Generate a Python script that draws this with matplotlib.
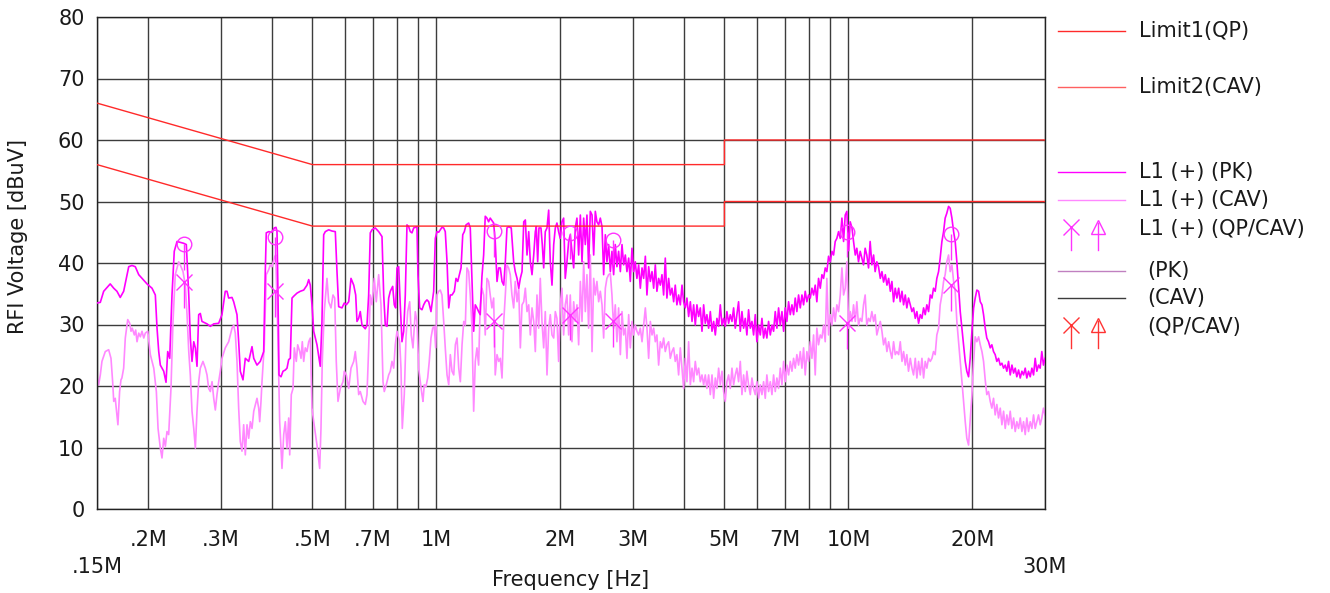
import matplotlib
matplotlib.use("Agg")
import matplotlib.pyplot as plt
import numpy as np
from matplotlib.ticker import NullLocator

# ---- data (MHz / dBuV) ----
pk_lo_mhz = [
    0.1500, 0.1528, 0.1557, 0.1615, 0.1647, 0.1677, 0.1708, 0.1741, 0.1791, 0.1824,
    0.1858, 0.1894, 0.1984, 0.2040, 0.2078, 0.2098, 0.2118, 0.2137, 0.2178, 0.2206,
    0.2227, 0.2252, 0.2281, 0.2310, 0.2346, 0.2436, 0.2471, 0.2505, 0.2527, 0.2551,
    0.2576, 0.2599, 0.2623, 0.2648, 0.2672, 0.2697, 0.2774, 0.2826, 0.2880, 0.2961,
    0.3016, 0.3072, 0.3102, 0.3131, 0.3190, 0.3220, 0.3280, 0.3311, 0.3341, 0.3392,
    0.3436, 0.3502, 0.3567, 0.3602, 0.3668,
    0.3736, 0.3808, 0.3842, 0.3863, 0.3916, 0.3989, 0.4040, 0.4079, 0.4102, 0.4125,
    0.4148, 0.4195, 0.4242, 0.4297, 0.4338, 0.4379, 0.4419, 0.4461, 0.4504, 0.4587,
    0.4672, 0.4762, 0.4851, 0.4897, 0.4941, 0.4988, 0.5036, 0.5129, 0.5224, 0.5274,
    0.5325, 0.5373, 0.5476, 0.5578, 0.5682, 0.5736, 0.5790, 0.5898, 0.5975, 0.6042,
    0.6124, 0.6203, 0.6298, 0.6368, 0.6414, 0.6475, 0.6533, 0.6596, 0.6719, 0.6783,
    0.6847, 0.6909, 0.6975, 0.7105, 0.7241, 0.7376, 0.7447, 0.7514, 0.7585, 0.7657,
    0.7726, 0.7831, 0.7901, 0.7963, 0.8021, 0.8097, 0.8170, 0.8248, 0.8327, 0.8402,
    0.8482, 0.8563, 0.8640, 0.8722, 0.8806, 0.8969,
    0.9019, 0.9105, 0.9223, 0.9312, 0.9395, 0.9485, 0.9575, 0.9699, 0.9847, 0.9936,
    1.003, 1.0125, 1.0314, 1.0413, 1.0506, 1.061, 1.0711, 1.0807, 1.0910, 1.1051,
    1.1156, 1.1264, 1.1365, 1.1474, 1.1584, 1.1687, 1.1798, 1.1973, 1.2081, 1.2196,
    1.2313, 1.2424, 1.254, 1.2659, 1.2773, 1.2895, 1.3019, 1.3136, 1.326, 1.3386,
    1.3507, 1.3767, 1.3890, 1.403, 1.4163, 1.4291, 1.4427, 1.4566, 1.4696, 1.483,
    1.4971, 1.5190, 1.5397, 1.5534, 1.569, 1.5839, 1.5982, 1.6134, 1.6289, 1.6435,
    1.659, 1.6748, 1.6899, 1.7059, 1.7224, 1.7378, 1.7474, 1.7608, 1.7736, 1.7936,
    1.8068, 1.8210, 1.8373, 1.855, 1.8726, 1.8895, 1.9075, 1.9259, 1.9431, 1.961,
    1.9796, 1.9975, 2.0165, 2.0359, 2.0541, 2.074, 2.0937, 2.1126, 2.1327, 2.1532,
    2.1725,
]
pk_lo_db = [
    33.5, 33.6, 35.4, 36.6, 35.9, 35.4, 34.4, 35.4, 39.4, 39.6,
    39.4, 38.1, 36.6, 35.9, 34.8, 29.4, 25.6, 23.4, 22.4, 20.6,
    25.6, 24.5, 34.8, 41.9, 43.5, 43.2, 43.0, 34.8, 27.8, 24.0,
    27.2, 26.2, 23.2, 31.6, 31.8, 30.5, 30.1, 29.7, 30.1, 30.2,
    31.6, 35.4, 35.4, 34.3, 34.4, 33.7, 31.6, 27.2, 22.4, 21.0,
    24.5, 24.0, 26.4, 24.5, 23.4,
    24.0, 25.6, 38.6, 44.9, 45.1, 45.0, 45.7, 45.8, 45.1, 34.8,
    21.8, 21.5, 22.4, 22.6, 22.9, 24.3, 24.5, 34.3, 34.6, 35.1,
    35.4, 35.6, 36.4, 37.3, 36.4, 33.2, 28.9, 26.7, 23.2, 30.5,
    44.6, 45.1, 45.4, 45.2, 45.1, 38.6, 32.9, 32.7, 33.5, 33.2,
    33.7, 37.5, 36.4, 34.8, 30.5, 31.0, 32.1, 29.9, 29.3, 29.9,
    34.8, 44.9, 45.4, 45.7, 45.1, 44.3, 34.8, 29.9, 29.7, 34.3,
    35.4, 36.2, 33.2, 32.7, 39.2, 39.4, 33.2, 27.2, 28.9, 34.8,
    46.2, 45.9, 45.1, 44.9, 45.7, 45.9,
    38.1, 32.7, 32.4, 33.2, 33.7, 34.0, 33.7, 32.1, 35.4, 44.0,
    45.1, 45.0, 45.8, 45.7, 45.1, 40.2, 32.7, 34.8, 34.8, 35.4,
    37.5, 37.0, 38.1, 39.2, 44.6, 45.1, 46.2, 46.5, 45.7, 37.5,
    28.9, 33.2, 32.7, 32.1, 31.6, 37.8, 41.3, 47.6, 47.3, 46.7,
    47.3, 46.5, 43.5, 37.0, 39.2, 39.2, 37.0, 36.4, 40.2, 45.7,
    45.9, 45.7, 40.2, 38.6, 37.5, 35.9, 37.5, 38.6, 46.7, 47.0,
    41.3, 45.1, 40.2, 38.1, 41.3, 45.1, 45.9, 40.2, 45.7, 45.7,
    43.0, 39.2, 45.1, 45.7, 48.6, 40.2, 36.4, 43.0, 45.7, 46.5,
    45.1, 44.0, 46.7, 47.3, 37.5, 40.2, 43.5, 44.6, 41.9, 39.2,
    45.7,
]

cav_lo_mhz = [
    0.1500, 0.1514, 0.1528, 0.1542, 0.1571, 0.1601, 0.1622, 0.1637, 0.1647, 0.1661,
    0.1677, 0.1686, 0.1702, 0.1715, 0.1724, 0.1741, 0.1757, 0.1781, 0.1801, 0.1814,
    0.1827, 0.1848, 0.1862, 0.1876, 0.1894, 0.1911, 0.1929, 0.1948, 0.1965, 0.1992,
    0.2021, 0.2060, 0.2090, 0.2110, 0.2137, 0.2157, 0.2178, 0.2198, 0.2218, 0.2239,
    0.2268, 0.2294, 0.2323, 0.2368, 0.2399, 0.2426, 0.2457, 0.2481, 0.2505, 0.2527,
    0.2551, 0.2576, 0.2599, 0.2623, 0.2648, 0.2672, 0.2712, 0.2748, 0.2774, 0.2800,
    0.2826, 0.2853, 0.2880, 0.2906, 0.2933, 0.2961, 0.2988, 0.3016, 0.3072, 0.3131,
    0.3190, 0.3220, 0.3249, 0.3280, 0.3311, 0.3341, 0.3373, 0.3405, 0.3436, 0.3469,
    0.3502, 0.3534, 0.3567, 0.3602, 0.3668,
    0.3703, 0.3724, 0.3751, 0.3772, 0.3821, 0.3863, 0.3916, 0.3951, 0.3989, 0.4040,
    0.4072, 0.4118, 0.4164, 0.4218, 0.4259, 0.4297, 0.4338, 0.4379, 0.4404, 0.4443,
    0.4486, 0.4518, 0.4569, 0.4605, 0.4657, 0.4691, 0.4725, 0.4762, 0.4805, 0.4851,
    0.4897, 0.4941, 0.4988, 0.5036, 0.5129, 0.5207, 0.5245, 0.5283, 0.5342, 0.5424,
    0.5476, 0.5547, 0.5609, 0.5663, 0.5713, 0.5768, 0.5843, 0.5932, 0.5975, 0.6042,
    0.6124, 0.6203, 0.6298, 0.6354, 0.6414, 0.6475, 0.6533, 0.6633, 0.6719, 0.6783,
    0.6847, 0.6909, 0.6975, 0.7065, 0.7145, 0.7241, 0.7335, 0.7418, 0.7471, 0.7555,
    0.7657, 0.7726, 0.7800, 0.7875, 0.7945, 0.8021, 0.8143, 0.8202, 0.8262, 0.8355,
    0.8434, 0.8515, 0.8611, 0.8688, 0.8771, 0.8885, 0.8969,
    0.9054, 0.9136, 0.9223, 0.9275, 0.9342, 0.9431, 0.9522, 0.9607, 0.9699, 0.9792,
    0.9880, 0.9957, 1.003, 1.0125, 1.0217, 1.0314, 1.0413, 1.0506, 1.061, 1.0711,
    1.0807, 1.0910, 1.1015, 1.1114, 1.122, 1.1327, 1.1429, 1.1538, 1.1649, 1.1753,
    1.186, 1.1973, 1.2081, 1.2196, 1.2313, 1.2424, 1.254, 1.2659, 1.2773, 1.2895,
    1.3019, 1.3136, 1.326, 1.3386, 1.3507, 1.3635, 1.3767, 1.3890, 1.403, 1.4163,
    1.4291, 1.4427, 1.4566, 1.4696, 1.483, 1.4971, 1.5106, 1.5250, 1.5397, 1.5534,
    1.569, 1.5839, 1.5982, 1.6134, 1.6289, 1.6435, 1.659, 1.6748, 1.6899, 1.7059,
    1.7224, 1.7378, 1.754, 1.7707, 1.7866, 1.8036, 1.8210, 1.8373, 1.855, 1.8726,
    1.8895, 1.9075, 1.9259, 1.9431, 1.961, 1.9796, 1.9975, 2.0165, 2.0359, 2.0541,
    2.074, 2.0937, 2.1126, 2.1327, 2.1532, 2.1725,
]
cav_lo_db = [
    21.5, 20.2, 21.8, 24.0, 25.6, 25.9, 24.5, 20.7, 17.5, 18.0,
    15.3, 13.7, 19.1, 21.0, 21.3, 22.9, 27.8, 30.8, 30.2, 28.9,
    29.4, 28.3, 29.1, 27.2, 28.6, 28.0, 28.9, 27.8, 28.6, 28.9,
    25.1, 22.9, 19.1, 13.1, 9.9, 8.3, 11.5, 10.2, 12.6, 12.1,
    19.6, 30.5, 38.1, 40.2, 39.4, 38.6, 36.4, 31.6, 25.6, 21.8,
    15.9, 13.1, 9.9, 15.9, 20.7, 22.9, 24.0, 22.9, 21.8, 19.6,
    19.1, 20.7, 18.0, 16.1, 18.6, 20.7, 22.4, 24.5, 26.2, 27.2,
    29.4, 29.9, 28.6, 24.0, 16.4, 11.0, 9.4, 13.7, 8.8, 13.7,
    11.5, 14.2, 13.1, 15.9, 18.0,
    16.4, 14.2, 17.5, 20.7, 26.7, 38.1, 38.9, 39.7, 39.4, 40.8,
    41.3, 29.4, 14.2, 6.6, 12.1, 14.2, 9.9, 14.8, 8.8, 18.6,
    19.6, 26.2, 24.0, 26.7, 25.6, 24.5, 27.2, 24.0, 26.2, 25.6,
    27.2, 27.8, 16.4, 14.2, 10.4, 6.6, 13.1, 24.0, 32.1, 37.5,
    33.7, 32.7, 34.8, 34.3, 24.0, 17.5, 19.6, 20.7, 22.4, 21.8,
    19.6, 22.9, 24.0, 25.6, 22.9, 18.6, 19.1, 17.5, 17.0, 18.6,
    26.2, 34.8, 33.2, 37.5, 33.7, 38.1, 33.2, 20.7, 19.1, 20.2,
    21.8, 22.4, 24.0, 22.9, 26.7, 28.9, 27.2, 22.9, 13.1, 18.6,
    27.8, 32.1, 33.7, 28.3, 26.2, 32.1, 30.5,
    22.9, 20.7, 18.6, 17.5, 20.2, 19.9, 21.3, 24.0, 27.8, 29.4,
    29.7, 26.2, 34.8, 35.4, 35.6, 34.8, 30.5, 26.2, 21.8, 20.2,
    25.1, 22.4, 21.8, 26.7, 27.8, 22.9, 20.7, 26.7, 30.5, 29.9,
    39.2, 38.6, 34.8, 29.4, 15.9, 24.0, 26.2, 23.4, 33.2, 35.9,
    34.8, 28.3, 37.5, 37.0, 34.8, 32.7, 34.3, 21.8, 25.1, 24.0,
    24.5, 21.3, 30.5, 34.8, 39.7, 39.2, 38.1, 34.8, 32.7, 37.0,
    33.7, 35.9, 26.2, 33.2, 33.7, 35.9, 32.1, 33.2, 28.3, 32.7,
    30.5, 25.6, 34.8, 29.4, 37.5, 30.5, 26.2, 32.1, 21.8, 29.4,
    31.6, 28.3, 27.8, 32.1, 31.0, 24.0, 33.2, 35.9, 28.3, 33.2,
    34.8, 28.3, 34.8, 27.2, 33.7, 30.5,
]

# sweep points above 2.19 MHz, shared by both detectors
sweep_hi_mhz = [
    2.193, 2.214, 2.235, 2.256, 2.277, 2.298,
    2.319, 2.341, 2.363, 2.386, 2.408, 2.430,
    2.452, 2.476, 2.499, 2.523, 2.546, 2.570,
    2.593, 2.618, 2.643, 2.667, 2.692, 2.717,
    2.742, 2.768, 2.795, 2.821, 2.847, 2.874,
    2.900, 2.928, 2.955, 2.983, 3.011, 3.038,
    3.066, 3.096, 3.125, 3.155, 3.184, 3.214,
    3.243, 3.274, 3.305, 3.336, 3.367, 3.398,
    3.429, 3.462, 3.495, 3.527, 3.560, 3.593,
    3.626, 3.661, 3.695, 3.730, 3.765, 3.799,
    3.834, 3.871, 3.908, 3.945, 3.981, 4.018,
    4.055, 4.094, 4.133, 4.172, 4.210, 4.249,
    4.288, 4.329, 4.370, 4.411, 4.452, 4.493,
    4.534, 4.578, 4.621, 4.665, 4.708, 4.752,
    4.795, 4.841, 4.887, 4.933, 4.978, 5.024,
    5.070, 5.119, 5.167, 5.216, 5.264, 5.313,
    5.361, 5.412, 5.464, 5.515, 5.566, 5.618,
    5.669, 5.723, 5.778, 5.832, 5.886, 5.941,
    5.995, 6.052, 6.110, 6.167, 6.224, 6.282,
    6.339, 6.400, 6.461, 6.522, 6.582, 6.643,
    6.704, 6.768, 6.832, 6.897, 6.961, 7.025,
    7.089, 7.157, 7.225, 7.293, 7.360, 7.428,
    7.496, 7.568, 7.640, 7.712, 7.783, 7.855,
    7.927, 8.003, 8.079, 8.155, 8.230, 8.306,
    8.382, 8.462, 8.543, 8.623, 8.703, 8.784,
    8.864, 8.949, 9.034, 9.119, 9.203, 9.288,
    9.373, 9.463, 9.553, 9.643, 9.732, 9.822,
    9.912, 10.01, 10.10, 10.20, 10.29, 10.39,
    10.48, 10.58, 10.68, 10.78, 10.88, 10.98,
    11.08, 11.19, 11.29, 11.40, 11.51, 11.61,
    11.72, 11.83, 11.95, 12.06, 12.17, 12.29,
    12.40, 12.52, 12.64, 12.75, 12.87, 12.99,
    13.11, 13.24, 13.36, 13.49, 13.61, 13.74,
    13.86, 13.99, 14.13, 14.26, 14.39, 14.53,
    14.66, 14.80, 14.94, 15.08, 15.22, 15.36,
    15.50, 15.65, 15.80, 15.95, 16.09, 16.24,
    16.39, 16.55, 16.70, 16.86, 17.02, 17.17,
    17.33, 17.50, 17.66, 17.83, 18.00, 18.16,
    18.33, 18.51, 18.68, 18.86, 19.03, 19.21,
    19.38, 19.57, 19.75, 19.94, 20.13, 20.31,
    20.50, 20.70, 20.89, 21.09, 21.28, 21.48,
    21.67, 21.88, 22.09, 22.29, 22.50, 22.71,
    22.92, 23.14, 23.36, 23.58, 23.80, 24.02,
    24.24, 24.47, 24.70, 24.94, 25.17, 25.40,
    25.63, 25.88, 26.12, 26.37, 26.61, 26.86,
    27.10, 27.36, 27.62, 27.88, 28.14, 28.40,
    28.66, 28.93, 29.20, 29.47, 29.74, 30.0,
]
pk_hi_db = [
    47.3, 41.3, 47.8, 40.2, 47.3, 43.0, 47.8, 39.2, 48.4, 47.8,
    41.3, 48.4, 46.7, 46.2, 47.3, 45.9, 38.1, 44.6, 40.2, 43.0,
    38.6, 41.9, 38.1, 43.0, 39.4, 41.9, 38.6, 43.0, 39.7, 41.3,
    38.6, 40.8, 37.0, 42.4, 38.6, 40.2, 37.5, 39.7, 35.9, 39.2,
    37.5, 41.1, 34.8, 39.4, 37.0, 38.6, 35.9, 39.7, 35.4, 37.5,
    36.4, 38.1, 34.8, 40.8, 34.3, 37.5, 34.8, 35.9, 33.7, 36.4,
    33.2, 34.8, 33.2, 36.4, 33.7, 32.7, 34.3, 31.3, 33.7, 30.5,
    33.2, 29.9, 33.2, 31.3, 32.7, 28.9, 33.2, 30.2, 31.6, 29.4,
    32.1, 28.9, 30.5, 28.3, 31.0, 29.7, 33.2, 29.9, 31.0, 29.7,
    32.1, 30.2, 31.6, 30.5, 32.7, 29.4, 31.6,
    33.7, 28.9, 32.1, 29.4, 31.0, 28.3, 32.4, 29.4, 30.5,
    28.3, 31.6, 27.2, 29.9, 28.3, 31.0, 27.8, 29.4, 27.8, 30.5,
    28.3, 29.9, 28.9, 32.1, 29.4, 32.7, 29.9, 32.1, 28.9, 32.7,
    30.5, 33.7, 31.6, 33.2, 31.6, 34.3, 32.1, 34.8, 32.7, 34.8,
    33.2, 35.4, 33.7, 34.8, 34.3, 35.9, 34.8, 36.4, 33.7, 37.5,
    35.9, 38.1, 37.5, 39.2, 38.6, 41.1, 40.2, 41.9, 41.3, 43.5,
    44.0, 45.1, 44.0, 47.3, 43.5, 47.8, 48.4, 42.0, 46.7, 45.7,
    43.5, 41.3, 42.4, 40.2, 41.9, 40.8, 39.7, 42.4, 41.3, 39.2,
    43.5, 39.7, 41.3, 38.6, 40.2, 39.4, 37.5, 38.6, 36.9, 38.1,
    36.4, 37.5, 35.4, 37.0, 33.7, 35.9, 34.3,
    35.9, 33.7, 35.4, 33.2, 34.8, 32.7, 34.3, 33.2, 32.1,
    32.7, 31.0, 32.1, 30.2, 31.6, 31.0, 32.7, 31.6, 33.2, 32.1,
    34.8, 34.3, 35.9, 35.4, 37.5, 38.6, 40.8, 43.5, 45.1, 47.3,
    48.1, 49.2, 48.9, 47.3, 45.1, 43.5, 40.2, 35.9, 32.1, 29.4,
    26.7, 24.0, 22.4, 21.5, 24.5, 28.9, 32.7, 34.3, 35.6, 35.4,
    33.7, 33.2, 31.6, 29.4, 27.8, 27.2, 26.2, 26.7, 25.6, 25.1,
    24.0, 24.5, 23.4, 23.7, 22.9, 23.4, 22.4, 24.0, 21.8, 23.4,
    22.1, 22.9, 21.5, 22.6, 21.3, 22.4, 21.8, 22.9, 21.3, 22.4,
    21.5, 22.9, 21.8, 24.5, 22.4, 23.4, 22.9, 25.6, 23.4, 24.5,
]
cav_hi_db = [
    33.2, 26.7, 37.0, 30.5, 40.2, 32.1, 38.1, 29.4, 41.3, 25.6,
    37.5, 34.8, 37.0, 33.7, 35.4, 33.2, 27.8, 35.9, 37.5, 38.1,
    38.3, 34.8, 29.4, 33.2, 27.2, 32.7, 25.1, 32.1, 28.3, 29.4,
    24.5, 31.6, 26.2, 30.5, 28.3, 29.9, 28.9, 28.3, 29.4, 27.2,
    29.9, 32.7, 29.4, 24.5, 30.5, 28.3, 29.4, 27.2, 28.3, 23.4,
    27.2, 26.2, 27.8, 25.6, 26.7, 27.2, 24.5, 25.6, 26.2, 24.0,
    25.1, 21.8, 26.2, 22.9, 19.6, 24.5, 20.7, 27.2, 20.2, 22.9,
    20.7, 24.0, 21.8, 22.9, 20.7, 21.8, 20.2, 21.8, 19.6, 21.8,
    18.6, 21.8, 18.0, 21.3, 19.6, 22.9, 20.2, 22.4, 19.1, 17.5,
    20.7, 21.8, 19.6, 22.9, 20.2, 21.8, 22.9,
    20.7, 24.0, 18.6, 21.8, 19.1, 22.4, 20.2, 18.6, 21.3,
    19.6, 18.6, 20.7, 18.0, 20.2, 18.6, 20.7, 18.0, 21.8, 19.1,
    20.7, 18.6, 21.8, 19.1, 21.3, 19.6, 22.9, 20.2, 24.0, 20.7,
    23.4, 21.8, 24.0, 22.4, 24.5, 22.9, 25.1, 23.4, 25.6, 22.9,
    26.2, 21.8, 25.6, 24.0, 27.2, 24.5, 28.3, 21.8, 29.4, 26.7,
    28.3, 27.8, 29.9, 27.2, 37.5, 28.3, 31.6, 29.9, 32.7, 30.5,
    33.2, 32.1, 34.8, 39.2, 34.8, 35.9, 40.2, 29.4, 32.1, 30.5,
    33.2, 30.5, 33.7, 29.9, 31.0, 30.5, 33.2, 34.8, 29.9, 31.0,
    30.5, 32.1, 30.5, 31.6, 28.3, 29.4, 30.5, 28.9, 26.7, 27.8,
    25.6, 27.2, 25.6, 24.5, 27.2, 25.1, 25.6,
    25.1, 27.2, 24.0, 25.6, 23.4, 25.1, 22.4, 24.5, 22.9,
    21.8, 24.5, 21.3, 24.0, 21.8, 24.5, 21.3, 24.0, 22.9, 24.5,
    24.0, 24.5, 25.6, 25.1, 28.3, 29.4, 33.2, 34.8, 37.0, 38.1,
    40.2, 41.3, 38.6, 39.7, 37.0, 35.4, 30.5, 27.2, 24.0, 20.7,
    17.5, 14.2, 11.5, 10.4, 14.5, 18.5, 24.0, 28.0, 27.2, 28.0,
    26.7, 25.6, 24.0, 21.0, 18.6, 19.1, 17.5, 16.4, 18.0, 15.3,
    17.0, 14.8, 16.4, 13.7, 15.9, 13.1, 15.3, 13.7, 15.9, 13.1,
    14.8, 12.6, 14.2, 13.1, 14.8, 12.6, 14.2, 12.1, 14.8, 12.6,
    14.2, 13.1, 15.3, 13.1, 14.2, 15.3, 13.7, 14.8, 16.4, 15.3,
]

# final measurements (QP circles, CAV crosses)
mark_mhz = [0.2444, 0.4063, 1.382, 2.106, 2.677, 9.912, 17.72]
mark_qp_db = [43.1, 44.3, 45.2, 44.9, 43.8, 45.1, 44.7]
mark_cav_db = [36.9, 35.4, 30.6, 31.6, 30.6, 30.2, 36.4]

# limit lines
limit_mhz = [0.15, 0.5, 5.0, 5.0, 30.0]
limit_qp_db = [66, 56, 56, 60, 60]
limit_cav_db = [56, 46, 46, 50, 50]

grid_mhz = [0.15, 0.2, 0.3, 0.4, 0.5, 0.6, 0.7, 0.8, 0.9, 1, 2, 3, 4, 5, 6, 7, 8, 9, 10, 20, 30]
grid_labels = ["\n.15M", ".2M", ".3M", "", ".5M", "", ".7M", "", "", "1M", "2M", "3M", "",
               "5M", "", "7M", "", "", "10M", "20M", "\n30M"]

pk_mhz = pk_lo_mhz + sweep_hi_mhz
pk_db = pk_lo_db + pk_hi_db
cav_mhz = cav_lo_mhz + sweep_hi_mhz
cav_db = cav_lo_db + cav_hi_db

W, H = 1330, 593
fig = plt.figure(figsize=(W / 100, H / 100), dpi=100)
ax = fig.add_axes([97 / W, 1 - 509 / H, (1045 - 97) / W, (509 - 17) / H])

TXT = "#1a1a1a"
FS = 15

ax.plot(cav_mhz, cav_db, color="#ff88ff", lw=1.2, zorder=2)
ax.plot(pk_mhz, pk_db, color="#ff00ff", lw=1.2, zorder=3)

ax.plot(limit_mhz, limit_qp_db, color="#ff2a2a", lw=1.0, zorder=4)
ax.plot(limit_mhz, limit_cav_db, color="#ff2a2a", lw=1.0, zorder=4)

stem = 4.2
mk = "#ff33ff"
ax.plot(mark_mhz, mark_qp_db, "o", mfc="none", mec=mk, ms=10.5, mew=1.0, zorder=5)
ax.plot(mark_mhz, mark_cav_db, "x", color=mk, ms=11, mew=1.0, zorder=5)
ax.vlines(mark_mhz, np.array(mark_qp_db) - stem, mark_qp_db, color=mk, lw=1.0, zorder=5)
ax.vlines(mark_mhz, np.array(mark_cav_db) - stem, mark_cav_db, color=mk, lw=1.0, zorder=5)

ax.set_xscale("log")
ax.set_xlim(0.15, 30)
ax.set_ylim(0, 80)
ax.set_xticks(grid_mhz)
ax.set_xticklabels(grid_labels)
ax.xaxis.set_minor_locator(NullLocator())
ax.set_yticks(range(0, 81, 10))
ax.grid(True, color="#3c3c3c", lw=1.0, zorder=1)
ax.set_axisbelow(True)
ax.tick_params(length=0, labelsize=FS, labelcolor=TXT)
ax.tick_params(axis="x", pad=15)
ax.tick_params(axis="y", pad=9)
for t in ax.get_xticklabels():
    t.set_linespacing(1.45)
for s in ax.spines.values():
    s.set_color("#222222")
    s.set_linewidth(1.0)

fig.text(571 / W, 1 - 580 / H, "Frequency [Hz]", ha="center", va="center", fontsize=FS, color=TXT)
fig.text(18 / W, 1 - 237 / H, "RFI Voltage [dBuV]", ha="center", va="center", rotation=90,
         fontsize=FS, color=TXT)

# legend drawn in pixel space on an overlay
lg = fig.add_axes([0, 0, 1, 1])
lg.set_xlim(0, W)
lg.set_ylim(H, 0)
lg.axis("off")
lx0, lx1 = 1058, 1125
legend_lines = [
    (31, "#ff2a2a", "Limit1(QP)", 1139),
    (87, "#ff6060", "Limit2(CAV)", 1139),
    (172, "#ff00ff", "L1 (+) (PK)", 1139),
    (200, "#ff88ff", "L1 (+) (CAV)", 1139),
    (271, "#c080c0", "(PK)", 1147),
    (298, "#3c3c3c", "(CAV)", 1147),
]
for yy, col, lab, tx in legend_lines:
    lg.plot([lx0, lx1], [yy, yy], color=col, lw=1.0)
    lg.text(tx, yy, lab, fontsize=FS, color=TXT, va="center", ha="left")

for yy, col, lab, tx in [(229, "#ff33ff", "L1 (+) (QP/CAV)", 1139), (327, "#ff3333", "(QP/CAV)", 1147)]:
    lg.plot([1071], [yy - 2], "x", color=col, ms=11, mew=1.0)
    lg.plot([1071, 1071], [yy - 2, yy + 21], color=col, lw=1.0)
    lg.plot([1098], [yy - 2], "^", mfc="none", mec=col, ms=10, mew=1.0)
    lg.plot([1098, 1098], [yy - 6, yy + 21], color=col, lw=1.0)
    lg.text(tx, yy, lab, fontsize=FS, color=TXT, va="center", ha="left")

fig.savefig("out.png", dpi=100)
